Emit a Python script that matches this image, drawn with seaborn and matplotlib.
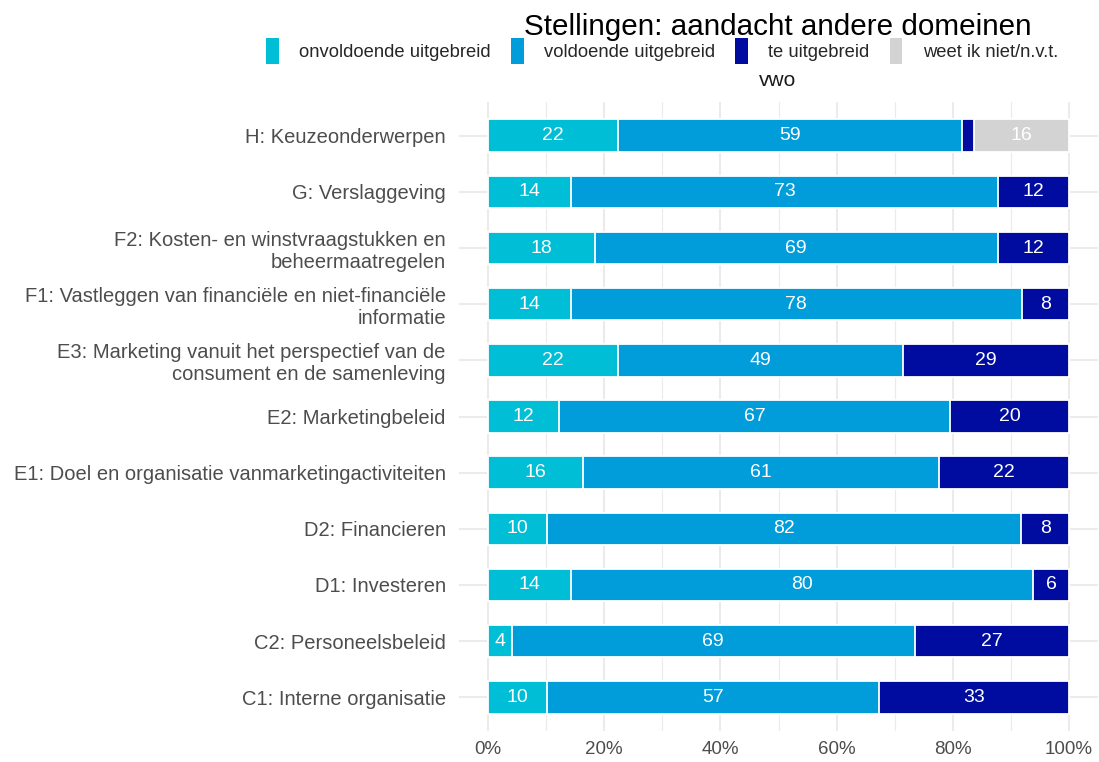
import matplotlib
matplotlib.use("Agg")
import matplotlib.pyplot as plt
from matplotlib.patches import Patch
import numpy as np
import pandas as pd
import seaborn as sns

# ---- data (percentages, top row first) ----
categories = [
    "H: Keuzeonderwerpen",
    "G: Verslaggeving",
    "F2: Kosten- en winstvraagstukken en\nbeheermaatregelen",
    "F1: Vastleggen van financiële en niet-financiële\ninformatie",
    "E3: Marketing vanuit het perspectief van de\nconsument en de samenleving",
    "E2: Marketingbeleid",
    "E1: Doel en organisatie vanmarketingactiviteiten",
    "D2: Financieren",
    "D1: Investeren",
    "C2: Personeelsbeleid",
    "C1: Interne organisatie",
]
onvoldoende = [22.45, 14.29, 18.37, 14.29, 22.45, 12.24, 16.33, 10.20, 14.29, 4.08, 10.20]
voldoende   = [59.18, 73.47, 69.39, 77.55, 48.98, 67.35, 61.22, 81.63, 79.59, 69.39, 57.14]
te_uitgebreid = [2.04, 12.24, 12.24, 8.16, 28.57, 20.41, 22.45, 8.16, 6.12, 26.53, 32.65]
weet_niet   = [16.33, 0, 0, 0, 0, 0, 0, 0, 0, 0, 0]

series_names = ["onvoldoende uitgebreid", "voldoende uitgebreid", "te uitgebreid", "weet ik niet/n.v.t."]
series_colors = ["#00BED6", "#009DDA", "#000C9F", "#D3D3D3"]
x_ticks = [0, 20, 40, 60, 80, 100]
x_tick_labels = ["0%", "20%", "40%", "60%", "80%", "100%"]
title = "Stellingen: aandacht andere domeinen"
facet = "vwo"

# ---- styling ----
sns.set_theme(style="white")
plt.rcParams["font.family"] = ["Liberation Sans", "DejaVu Sans"]

df = pd.DataFrame({
    "cat": categories,
    "s1": onvoldoende,
    "s2": voldoende,
    "s3": te_uitgebreid,
    "s4": weet_niet,
})
cols = ["s1", "s2", "s3", "s4"]
cum = df[cols].cumsum(axis=1)

W, H = 1099, 762
fig = plt.figure(figsize=(W / 100, H / 100), dpi=100)
ax = fig.add_axes([459 / W, 1 - 731 / H, (1098 - 459) / W, (731 - 102) / H])

# stacked bars: draw cumulative totals from the last series back to the first
for k in range(len(cols) - 1, -1, -1):
    sns.barplot(x=cum[cols[k]], y=df["cat"], order=categories, orient="h",
                color=series_colors[k], saturation=1, width=0.58,
                edgecolor="white", linewidth=1.3, errorbar=None, ax=ax)

# segment labels
for i in range(len(categories)):
    left = 0.0
    for k, c in enumerate(cols):
        v = df[c].iloc[i]
        if v >= 3:
            ax.text(left + v / 2, i, f"{round(v)}", ha="center", va="center",
                    color="white", fontsize=14)
        left += v

ax.set_xlim(-5, 105)
ax.set_ylim(len(categories) - 1 + 0.6, -0.6)
ax.set_xticks(x_ticks)
ax.set_xticklabels(x_tick_labels)
ax.set_xticks([10, 30, 50, 70, 90], minor=True)
ax.set_xlabel("")
ax.set_ylabel("")
ax.tick_params(axis="x", length=0, pad=7, labelsize=13.5, labelcolor="#4D4D4D")
ax.tick_params(axis="y", length=0, pad=9.5, labelsize=14.5, labelcolor="#4D4D4D")
ax.grid(True, which="major", axis="both", color="#EBEBEB", linewidth=1.5)
ax.grid(True, which="minor", axis="x", color="#EBEBEB", linewidth=0.8)
ax.set_axisbelow(True)
for s in ax.spines.values():
    s.set_visible(False)

# title, legend, facet strip
fig.text(778 / W, 1 - 27 / H, title, ha="center", va="center", fontsize=21.3, color="black")
handles = [Patch(facecolor=c, edgecolor="none") for c in series_colors]
fig.legend(handles, series_names, loc="center", bbox_to_anchor=(662 / W, 1 - 51 / H),
           ncol=4, frameon=False, fontsize=13.2, handlelength=0.7, handleheight=1.75,
           handletextpad=1.1, columnspacing=1.1, borderaxespad=0, borderpad=0)
fig.text(778 / W, 1 - 80 / H, facet, ha="center", va="center", fontsize=15, color="#1A1A1A")

fig.savefig("out.png", dpi=100)
